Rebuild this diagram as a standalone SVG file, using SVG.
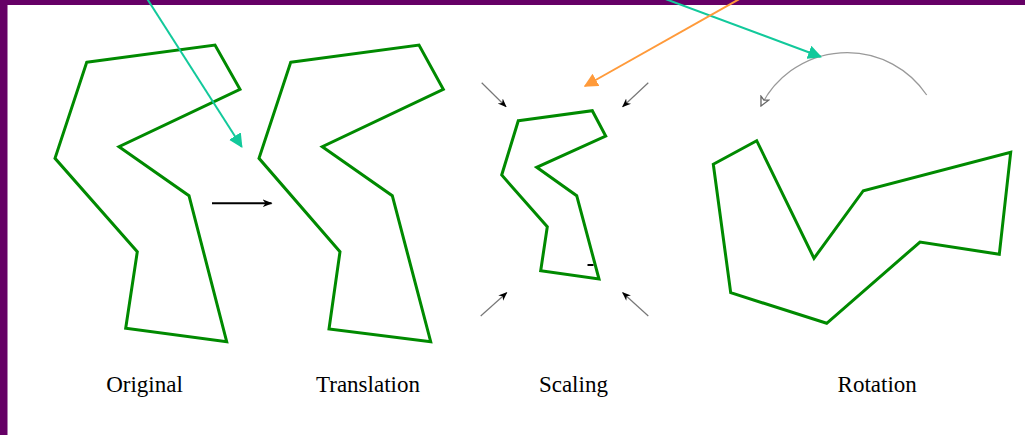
<svg xmlns="http://www.w3.org/2000/svg" width="1025" height="435" viewBox="0 0 1025 435">
  <style>
    .shape { fill: none; stroke: #008a00; stroke-width: 3; stroke-linejoin: miter; }
    .label { font-family: "Liberation Serif", "Times New Roman", serif; font-size: 23px; fill: #000; text-anchor: middle; }
    .teal { stroke: #12c99b; stroke-width: 2; fill: none; }
    .orange { stroke: #ff9a3a; stroke-width: 2; fill: none; }
    .small { stroke: #777; stroke-width: 1.2; fill: none; }
  </style>
  <defs>
    <marker id="headTealL" viewBox="0 0 10 10" refX="9" refY="5" markerWidth="14" markerHeight="14" markerUnits="userSpaceOnUse" orient="auto">
      <path d="M0,0 L10,5 L0,10 z" fill="#12c99b"/>
    </marker>
    <marker id="headOrange" viewBox="0 0 10 10" refX="9" refY="5" markerWidth="14" markerHeight="14" markerUnits="userSpaceOnUse" orient="auto">
      <path d="M0,0 L10,5 L0,10 z" fill="#ff9a3a"/>
    </marker>
    <marker id="headBlack" viewBox="0 0 10 10" refX="9" refY="5" markerWidth="10" markerHeight="10" markerUnits="userSpaceOnUse" orient="auto">
      <path d="M0,1 L10,5 L0,9 L3,5 z" fill="#000"/>
    </marker>
    <marker id="headSmall" viewBox="0 0 10 10" refX="9" refY="5" markerWidth="9" markerHeight="9" markerUnits="userSpaceOnUse" orient="auto">
      <path d="M0,1 L10,5 L0,9 L3,5 z" fill="#000"/>
    </marker>
    <marker id="headOpen" viewBox="0 0 10 10" refX="9" refY="5" markerWidth="11" markerHeight="11" markerUnits="userSpaceOnUse" orient="auto">
      <path d="M1,1 L9,5 L1,9 L3,5 z" fill="#fff" stroke="#666" stroke-width="1.2"/>
    </marker>
  </defs>

  <rect x="0" y="0" width="1025" height="435" fill="#ffffff"/>
  <rect x="0" y="0" width="1025" height="5" fill="#660066"/>
  <rect x="0" y="0" width="7.5" height="435" fill="#660066"/>

  <g id="original">
    <polygon class="shape" points="86.7,62.3 215,45 240,89.3 119,146.7 189,195.7 226.7,341.7 125.7,328.3 137.3,251.7 55,158.3"/>
    <text class="label" x="144.5" y="392">Original</text>
  </g>

  <g id="translation">
    <polygon class="shape" points="290.7,62.3 419,45 443.3,89.3 322.3,146.7 392.3,195.7 430.7,341.7 329,329 340,251.7 259,158.3"/>
    <text class="label" x="368" y="392">Translation</text>
  </g>

  <g id="scaling">
    <polygon class="shape" points="518.3,120.7 592.3,110.7 605.7,136 536.7,167.3 576.7,195.7 599,279 540.7,270.7 547.3,226.7 501.7,175"/>
    <line x1="587.5" y1="265" x2="593.5" y2="265" stroke="#000" stroke-width="2"/>
    <text class="label" x="573.4" y="392">Scaling</text>
  </g>

  <g id="rotation">
    <polygon class="shape" points="713.3,164.3 756.7,140.7 814,258.3 863.3,190.7 1010.7,152.3 999.3,254.3 920,242 826.7,323.3 730.7,292.7"/>
    <text class="label" x="877.2" y="392">Rotation</text>
  </g>

  <g id="connectors">
    <line x1="212" y1="203.3" x2="271.5" y2="203.3" stroke="#000" stroke-width="2" marker-end="url(#headBlack)"/>
    <line class="small" x1="481.7" y1="82.7" x2="506" y2="106.7" marker-end="url(#headSmall)"/>
    <line class="small" x1="648.3" y1="82.7" x2="622.7" y2="106.7" marker-end="url(#headSmall)"/>
    <line class="small" x1="480.7" y1="316" x2="506.7" y2="292.7" marker-end="url(#headSmall)"/>
    <line class="small" x1="648.3" y1="316" x2="622.7" y2="292.7" marker-end="url(#headSmall)"/>
    <path d="M926.7,95 A96,96 0 0 0 761,106" stroke="#999" stroke-width="1.3" fill="none" marker-end="url(#headOpen)"/>
    <line class="teal" x1="146" y1="-3" x2="241.7" y2="146.7" marker-end="url(#headTealL)"/>
    <line class="teal" x1="660" y1="-3" x2="820.7" y2="56.7" marker-end="url(#headTealL)"/>
    <line class="orange" x1="743" y1="-3" x2="585" y2="86" marker-end="url(#headOrange)"/>
  </g>
</svg>
